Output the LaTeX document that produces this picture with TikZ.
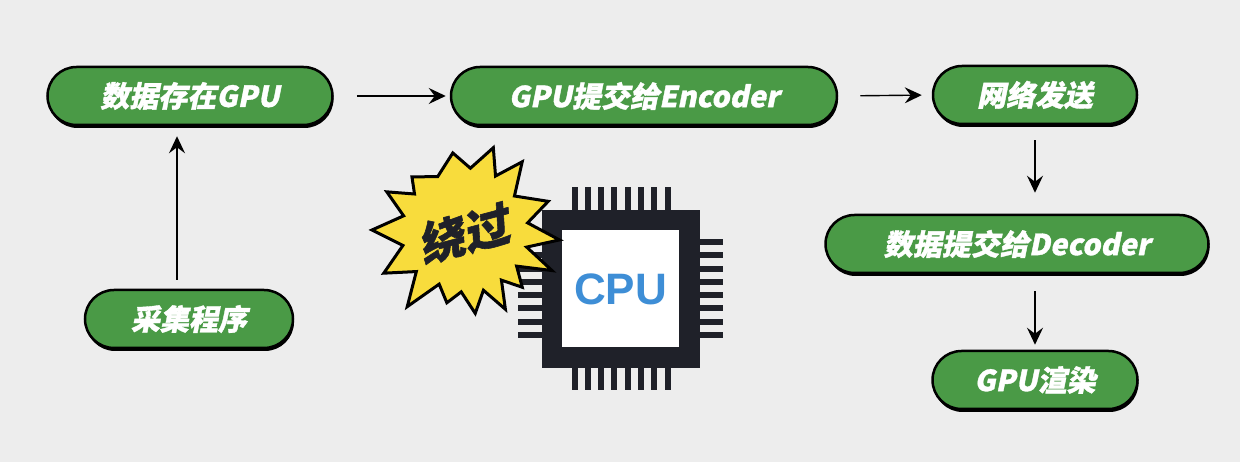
\documentclass[tikz,border=0pt]{standalone}
\usepackage{fontspec}
\usetikzlibrary{arrows.meta,shadows}
\newfontfamily\cjkfont[FakeSlant=0.2,BoldFeatures={FakeBold=1.2}]{Noto Sans CJK SC}
\setsansfont{Liberation Sans}
\definecolor{bggray}{HTML}{EDEDED}
\definecolor{boxgreen}{HTML}{4A9A46}
\definecolor{staryellow}{HTML}{F8DC3C}
\definecolor{chipdark}{HTML}{1F2129}
\definecolor{cpublue}{HTML}{3E8ED6}
\begin{document}
\begin{tikzpicture}[x=1pt,y=1pt,
		stagebox/.style={draw=black,line width=2.5pt,fill=boxgreen,rounded corners=29pt,
			minimum height=58pt,inner sep=0pt,text=white,
			font=\cjkfont\bfseries\fontsize{29}{29}\selectfont,
			drop shadow={shadow xshift=1pt,shadow yshift=-3pt,fill=black,opacity=1}},
		flow/.style={-{Stealth[length=17pt,width=16pt,inset=6pt]},line width=1.4pt}]
		\fill[bggray] (0,0) rectangle (1240,462);
		\useasboundingbox (0,0) rectangle (1240,462);
		% flow boxes
		\node[stagebox,minimum width=285pt] (store) at (190,366) {数据存在GPU};
		\node[stagebox,minimum width=386pt] (encode) at (644,366) {GPU提交给Encoder};
		\node[stagebox,minimum width=204pt] (send) at (1035,367) {网络发送};
		\node[stagebox,minimum width=383pt] (decode) at (1017,218) {数据提交给Decoder};
		\node[stagebox,minimum width=205pt] (render) at (1035,82) {GPU渲染};
		\node[stagebox,minimum width=208pt] (capture) at (189,143) {采集程序};
		% arrows
		\draw[flow,shorten <=9pt,shorten >=10pt] ([xshift=-12pt]capture.north) -- ([xshift=-13pt]store.south);
		\draw[flow,shorten <=23pt,shorten >=4pt] (store.east) -- (encode.west);
		\draw[flow,shorten <=22pt,shorten >=10pt] (encode.east) -- (send.west);
		\draw[flow,shorten <=15pt,shorten >=21pt] (send.south) -- (send.south |- decode.north);
		\draw[flow,shorten <=17pt,shorten >=5pt] (render.north |- decode.south) -- (render.north);
		% cpu chip
		\foreach \i in {0,...,7} {
			\fill[chipdark] (571.5+13.3*\i,252) rectangle +(6,23);
			\fill[chipdark] (571.5+13.3*\i,94) rectangle +(6,-22);
			\fill[chipdark] (700,217-13.3*\i) rectangle +(23,6);
			\fill[chipdark] (542,217-13.3*\i) rectangle +(-24,6);
		}
		\fill[chipdark] (542,94) rectangle (700,252);
		\fill[white] (562,115) rectangle (679,232);
		\node[font=\sffamily\bfseries\fontsize{44}{44}\selectfont,text=cpublue] (cpu) at (620.5,173) {CPU};
		% bypass star
		\begin{scope}[shift={(465,232)}]
			\draw[fill=staryellow,line width=3pt,line join=miter] (71:87)
				\foreach \a/\r in {60.5/62,50/89,34.5/60,19/88,6.5/63,-6/95,-15.5/64,-25/96,-35/63,
					-45/81,-54/62,-63/89,-73/63,-83/84,-93.5/62,-104/75,-115.5/60,-127/96,-139.5/64,
					-152/92,-166/64,180/93,167/63,154/87,144.5/62,135/75,117/60,99/78,85/62} { -- (\a:\r) }
				-- cycle;
		\end{scope}
		\node[font=\cjkfont\bfseries\fontsize{46}{46}\selectfont,text=chipdark,rotate=15] (bypass) at (463,228) {绕过};
	\end{tikzpicture}
\end{document}
